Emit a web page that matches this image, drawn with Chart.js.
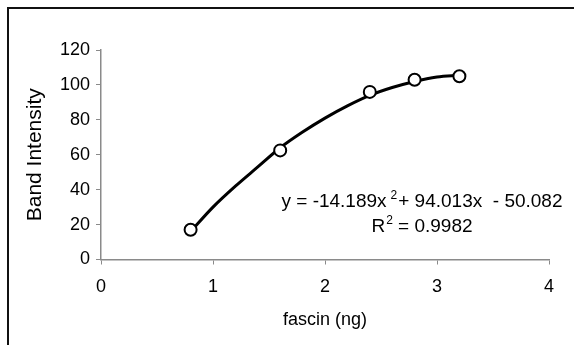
<!DOCTYPE html>
<html>
<head>
<meta charset="utf-8">
<script src="https://cdn.jsdelivr.net/npm/chart.js@4"></script>
<style>
  html, body { margin: 0; padding: 0; background: #fff; }
  #wrap { width: 574px; height: 345px; position: relative; }
</style>
</head>
<body>
<div id="wrap"><canvas id="c" width="574" height="345"></canvas></div>
<script>
// Measured points (fascin ng vs band intensity)
const fascinNg = [0.8, 1.6, 2.4, 2.8, 3.2];
const bandIntensity = [17, 62.5, 96, 103, 105];

// Trendline
const trendX = [0.8, 1.0, 1.2, 1.4, 1.6, 1.8, 2.0, 2.2, 2.4, 2.6, 2.8, 3.0, 3.2];
const trendY = [16, 30, 42, 53, 64, 73, 81, 88, 94, 98.5, 102, 104.5, 105.5];

const xTicks = [0, 1, 2, 3, 4];
const yTicks = [0, 20, 40, 60, 80, 100, 120];

const xTitle = 'fascin (ng)';
const yTitle = 'Band Intensity';
const eqMain = 'y = -14.189x';
const eqSup = '2';
const eqRest = '+ 94.013x  - 50.082';
const r2Main = 'R';
const r2Sup = '2';
const r2Rest = ' = 0.9982';
const eqAnchor = { x: 2.866, y1: 33, y2: 19 };

const FONT = '"Liberation Sans", Arial, sans-serif';

const framePlugin = {
  id: 'frame',
  beforeDraw(chart) {
    const ctx = chart.ctx;
    ctx.save();
    ctx.fillStyle = '#fff';
    ctx.fillRect(0, 0, chart.width, chart.height);
    ctx.strokeStyle = '#111';
    ctx.lineWidth = 2;
    ctx.beginPath();
    ctx.moveTo(8, chart.height + 5);
    ctx.lineTo(8, 8);
    ctx.lineTo(chart.width + 5, 8);
    ctx.stroke();
    ctx.restore();
  }
};

const equationPlugin = {
  id: 'equation',
  afterDatasetsDraw(chart) {
    const ctx = chart.ctx;
    const xs = chart.scales.x, ys = chart.scales.y;
    const cx = xs.getPixelForValue(eqAnchor.x);
    const y1 = ys.getPixelForValue(eqAnchor.y1);
    const y2 = ys.getPixelForValue(eqAnchor.y2);
    ctx.save();
    ctx.fillStyle = '#000';
    ctx.textBaseline = 'middle';
    ctx.textAlign = 'left';
    const big = '19px ' + FONT, small = '12px ' + FONT;
    function drawLine(parts, cy) {
      let total = 0;
      const widths = parts.map(p => { ctx.font = p.sup ? small : big; const w = ctx.measureText(p.t).width + (p.gap || 0); total += w; return w; });
      let x = cx - total / 2;
      parts.forEach((p, i) => {
        ctx.font = p.sup ? small : big;
        ctx.fillText(p.t, x + (p.pre || 0), p.sup ? cy - 6 : cy);
        x += widths[i];
      });
    }
    drawLine([{t: eqMain}, {t: eqSup, sup: true, pre: 4, gap: 5}, {t: eqRest}], y1);
    drawLine([{t: r2Main}, {t: r2Sup, sup: true, pre: 1, gap: 1}, {t: r2Rest}], y2);
    ctx.restore();
  }
};

new Chart(document.getElementById('c'), {
  type: 'scatter',
  data: {
    datasets: [
      {
        label: 'data',
        order: 0,
        data: fascinNg.map((x, i) => ({ x, y: bandIntensity[i] })),
        pointRadius: 6,
        pointHoverRadius: 6,
        pointBackgroundColor: '#fff',
        pointBorderColor: '#000',
        pointBorderWidth: 2,
        showLine: false
      },
      {
        label: 'trend',
        order: 1,
        data: trendX.map((x, i) => ({ x, y: trendY[i] })),
        showLine: true,
        borderColor: '#000',
        borderWidth: 3,
        pointRadius: 0,
        cubicInterpolationMode: 'monotone'
      }
    ]
  },
  options: {
    responsive: false,
    animation: false,
    events: [],
    layout: { padding: { left: 0, top: 50, right: 25, bottom: 0 } },
    plugins: { legend: { display: false }, tooltip: { enabled: false } },
    scales: {
      x: {
        type: 'linear',
        min: 0, max: 4,
        afterBuildTicks(s) { s.ticks = xTicks.map(v => ({ value: v })); },
        afterFit(s) { s.height = 85.5; },
        grid: { drawOnChartArea: false, drawTicks: true, tickLength: 5, color: '#8a8a8a', lineWidth: 1 },
        border: { color: '#8a8a8a', width: 1.5 },
        ticks: { color: '#000', font: { family: FONT, size: 18 }, padding: 12, maxRotation: 0 },
        title: { display: true, text: xTitle, color: '#000', font: { family: FONT, size: 18 }, padding: { top: 0, bottom: 14 } }
      },
      y: {
        type: 'linear',
        min: 0, max: 120,
        afterBuildTicks(s) { s.ticks = yTicks.map(v => ({ value: v })); },
        afterFit(s) { s.width = 101; },
        grid: { drawOnChartArea: false, drawTicks: true, tickLength: 5, color: '#8a8a8a', lineWidth: 1 },
        border: { color: '#8a8a8a', width: 1.5 },
        ticks: { color: '#000', font: { family: FONT, size: 18 }, padding: 6 },
        title: { display: true, text: yTitle, color: '#000', font: { family: FONT, size: 21 }, padding: { top: 23, bottom: 0 } }
      }
    }
  },
  plugins: [framePlugin, equationPlugin]
});
</script>
</body>
</html>
